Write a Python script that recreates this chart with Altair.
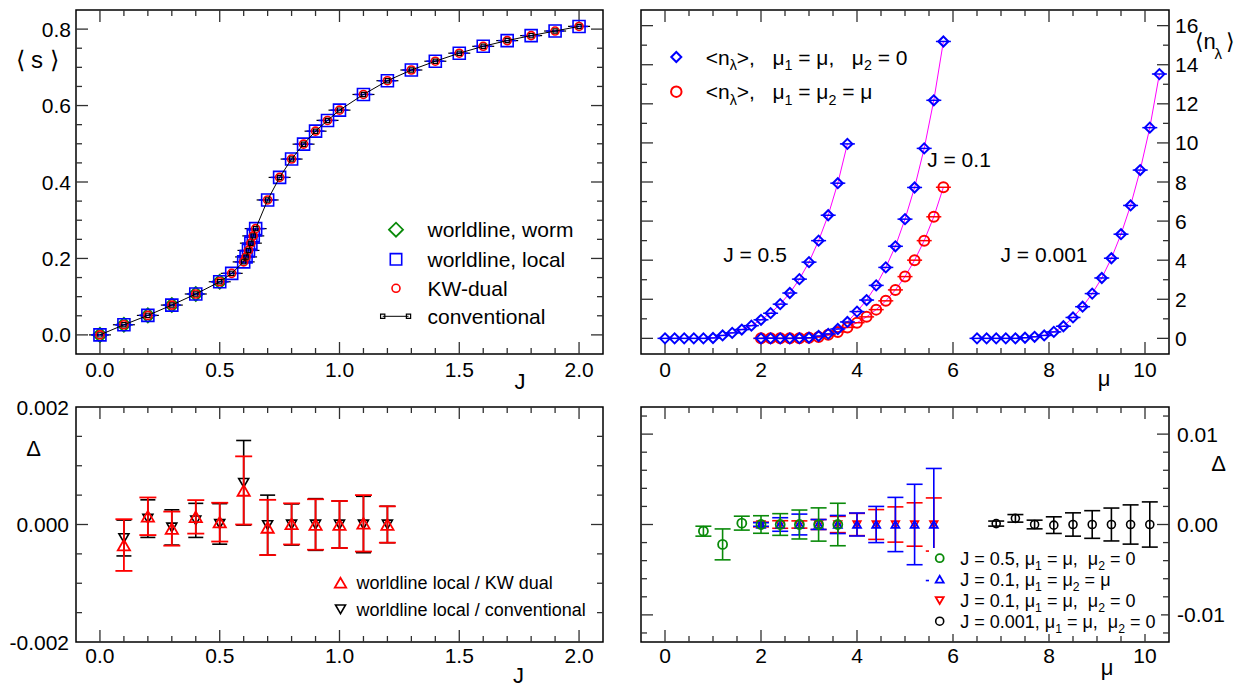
import altair as alt
import pandas as pd

FONT = "Liberation Sans"
BLUE = "#0000ff"
RED = "#ff0000"
GREEN = "#0a8a0a"
BLACK = "#000000"
MAGENTA = "#ff00ff"
TICKC = "#303030"

# ================= panel (a): <s> versus J =================
J_s = [0.0, 0.1, 0.2, 0.3, 0.4, 0.5, 0.55, 0.6, 0.61, 0.62, 0.63, 0.64, 0.65, 0.7, 0.75,
       0.8, 0.85, 0.9, 0.95, 1.0, 1.1, 1.2, 1.3, 1.4, 1.5, 1.6, 1.7, 1.8, 1.9, 2.0]
s_local = [0.0, 0.0265, 0.051, 0.078, 0.107, 0.139, 0.161, 0.191, 0.204, 0.221, 0.240, 0.259, 0.278, 0.353, 0.412,
           0.460, 0.499, 0.533, 0.561, 0.588, 0.629, 0.665, 0.693, 0.716, 0.737, 0.755, 0.770, 0.783, 0.795, 0.807]
s_kw = [0.0, 0.0265, 0.051, 0.078, 0.107, 0.139, 0.161, 0.191, 0.204, 0.221, 0.240, 0.259, 0.278, 0.353, 0.412,
        0.460, 0.499, 0.533, 0.561, 0.588, 0.629, 0.665, 0.693, 0.716, 0.737, 0.755, 0.770, 0.783, 0.795, 0.807]
s_conv = [0.0, 0.0265, 0.051, 0.078, 0.107, 0.139, 0.161, 0.191, 0.204, 0.221, 0.240, 0.259, 0.278, 0.353, 0.412,
          0.460, 0.499, 0.533, 0.561, 0.588, 0.629, 0.665, 0.693, 0.716, 0.737, 0.755, 0.770, 0.783, 0.795, 0.807]
J_worm = [0.0, 0.1, 0.2, 0.3, 0.4, 0.5]
s_worm = [0.0, 0.0265, 0.051, 0.078, 0.107, 0.139]

# ================= panel (b): <n_lambda> versus mu =================
mu_J05 = [0.0, 0.2, 0.4, 0.6, 0.8, 1.0, 1.2, 1.4, 1.6, 1.8, 2.0, 2.2, 2.4, 2.6, 2.8, 3.0, 3.2, 3.4, 3.6, 3.8]
n_J05 = [0.0, 0.0, 0.0, 0.0, 0.0, 0.02, 0.15, 0.28, 0.45, 0.65, 0.95, 1.29, 1.75, 2.32, 3.03, 3.90, 5.0, 6.30, 7.94, 9.95]
mu_J01 = [2.0, 2.2, 2.4, 2.6, 2.8, 3.0, 3.2, 3.4, 3.6, 3.8, 4.0, 4.2, 4.4, 4.6, 4.8, 5.0, 5.2, 5.4, 5.6, 5.8]
n_J01_one = [0.0, 0.0, 0.0, 0.0, 0.01, 0.03, 0.12, 0.23, 0.48, 0.84, 1.37, 1.96, 2.71, 3.63, 4.71, 6.10, 7.72, 9.72, 12.18, 15.19]
n_J01_both = [0.0, 0.0, 0.0, 0.0, 0.01, 0.03, 0.07, 0.18, 0.33, 0.56, 0.80, 1.10, 1.47, 1.92, 2.48, 3.16, 4.0, 5.0, 6.22, 7.73]
mu_J0001 = [6.5, 6.7, 6.9, 7.1, 7.3, 7.5, 7.7, 7.9, 8.1, 8.3, 8.5, 8.7, 8.9, 9.1, 9.3, 9.5, 9.7, 9.9, 10.1, 10.3]
n_J0001 = [0.0, 0.0, 0.0, 0.0, 0.0, 0.03, 0.08, 0.15, 0.33, 0.62, 1.07, 1.62, 2.29, 3.09, 4.10, 5.33, 6.80, 8.61, 10.78, 13.52]

# ================= panel (c): Delta versus J =================
J_d = [0.1, 0.2, 0.3, 0.4, 0.5, 0.6, 0.7, 0.8, 0.9, 1.0, 1.1, 1.2]
d_kw = [-0.00035, 0.00014, -0.00007, 0.00013, 0.00004, 0.00058, -0.00005, 0.00001, 0.0, 0.0, 0.00002, 0.0]
e_kw = [0.00044, 0.00032, 0.00029, 0.000285, 0.00033, 0.00058, 0.00047, 0.00035, 0.00043, 0.00040, 0.00048, 0.00031]
d_cv = [-0.00023, 0.00010, -0.00005, 0.00007, 0.00001, 0.00071, -0.00001, 0.0, 0.0, 0.0, 0.0, 0.0]
e_cv = [0.000305, 0.00032, 0.00030, 0.00029, 0.000345, 0.00072, 0.00051, 0.00035, 0.00044, 0.00040, 0.00048, 0.00031]

# ================= panel (d): Delta versus mu =================
mu_g = [0.8, 1.2, 1.6, 2.0, 2.4, 2.8, 3.2, 3.6]
d_g = [-0.00074, -0.0022, 0.00015, 0.0, 0.0, 0.0, 0.0, 0.0]
e_g = [0.00055, 0.00171, 0.00077, 0.00097, 0.0012, 0.0016, 0.00184, 0.00235]
mu_q = [2.0, 2.4, 2.8, 3.2, 3.6, 4.0, 4.4, 4.8, 5.2, 5.6]
d_b = [0.0, 0.0, 0.0, 0.0, 0.0, 0.0, 0.0, 0.0, 0.0, 0.0]
e_b = [0.0002, 0.00075, 0.00115, 0.00055, 0.0010, 0.00127, 0.0020, 0.0030, 0.00445, 0.0062]
d_r = [0.0, 0.0, 0.0, 0.0, 0.0, 0.0, 0.0, 0.0, 0.0, 0.0]
e_r = [0.00026, 0.00042, 0.0004, 0.00055, 0.0009, 0.00123, 0.00165, 0.00195, 0.0024, 0.00294]
mu_k = [6.9, 7.3, 7.7, 8.1, 8.5, 8.9, 9.3, 9.7, 10.1]
d_k = [0.0001, 0.00068, 0.0, -0.00007, 0.0, 0.0, 0.0, 0.0, 0.0]
e_k = [0.00028, 0.00042, 0.00048, 0.00092, 0.00129, 0.00153, 0.00182, 0.00217, 0.0025]

# ================= ticks and tick labels =================
J_lab = [0.0, 0.5, 1.0, 1.5, 2.0]
J_txt = ["0.0", "0.5", "1.0", "1.5", "2.0"]
J_minor = [0.1, 0.2, 0.3, 0.4, 0.6, 0.7, 0.8, 0.9, 1.1, 1.2, 1.3, 1.4, 1.6, 1.7, 1.8, 1.9]
s_lab = [0.0, 0.2, 0.4, 0.6, 0.8]
s_txt = ["0.0", "0.2", "0.4", "0.6", "0.8"]
s_minor = [0.05, 0.1, 0.15, 0.25, 0.3, 0.35, 0.45, 0.5, 0.55, 0.65, 0.7, 0.75]
mu_lab = [0, 2, 4, 6, 8, 10]
mu_txt = ["0", "2", "4", "6", "8", "10"]
mu_minor = [0.5, 1, 1.5, 2.5, 3, 3.5, 4.5, 5, 5.5, 6.5, 7, 7.5, 8.5, 9, 9.5]
n_lab = [0, 2, 4, 6, 8, 10, 12, 14, 16]
n_txt = ["0", "2", "4", "6", "8", "10", "12", "14", "16"]
n_minor = [1, 3, 5, 7, 9, 11, 13, 15]
dJ_lab = [-0.002, 0.0, 0.002]
dJ_txt = ["-0.002", "0.000", "0.002"]
dJ_major = [0.0]
dJ_minor = [-0.0015, -0.001, -0.0005, 0.0005, 0.001, 0.0015]
dm_lab = [-0.01, 0.0, 0.01]
dm_txt = ["-0.01", "0.00", "0.01"]
dm_minor = [-0.012, -0.008, -0.006, -0.004, -0.002, 0.002, 0.004, 0.006, 0.008, 0.012]

W_L, W_R = 527, 528
H_T, H_B = 344, 235

AW = {' ': 278, '\u00a0': 278, '<': 584, '>': 584, 'n': 556, ',': 278, '=': 584, '\u03bc': 576,
      '\u03bb': 500, '.': 278, 'J': 500, '/': 278}


def tw(s, size):
    return sum(AW.get(c, 556) for c in s) * size / 1000.0


def text_at(t, x, y, size, color="black", align="left", baseline="alphabetic"):
    return alt.Chart(pd.DataFrame({"t": [t]})).mark_text(
        font=FONT, fontSize=size, color=color, align=align, baseline=baseline
    ).encode(x=alt.value(x), y=alt.value(y), text="t:N")


def rich(parts, x0, yc, size):
    """Text with subscripts; leading blanks are turned into an x advance."""
    out = []
    x = x0
    base = yc + 0.36 * size
    for txt, sub in parts:
        fs = size * 0.68 if sub else size
        yb = base + (0.28 * size if sub else 0)
        stripped = txt.lstrip(" ")
        lead = len(txt) - len(stripped)
        xd = x + tw(" " * lead, fs)
        out.append(text_at(stripped.replace(" ", "\u00a0"), xd, yb, fs))
        x += tw(txt, fs)
    return out


def sym(shape, x, y, size, color, sw=1.5):
    return alt.Chart(pd.DataFrame({"a": [0]})).mark_point(
        shape=shape, size=size, color=color, filled=False, strokeWidth=sw, opacity=1
    ).encode(x=alt.value(x), y=alt.value(y))


def frame_ticks(xs, ys, xmaj, xmin, ymaj, ymin, W, H, L=12, l=6):
    out = []
    for vals, ln in ((xmaj, L), (xmin, l)):
        base = alt.Chart(pd.DataFrame({"v": vals})).mark_rule(color=TICKC, strokeWidth=1.3)
        xe = alt.X("v:Q", scale=xs, axis=None)
        out.append(base.encode(x=xe, y=alt.value(H), y2=alt.value(H - ln)))
        out.append(base.encode(x=xe, y=alt.value(0), y2=alt.value(ln)))
    for vals, ln in ((ymaj, L), (ymin, l)):
        base = alt.Chart(pd.DataFrame({"v": vals})).mark_rule(color=TICKC, strokeWidth=1.3)
        ye = alt.Y("v:Q", scale=ys, axis=None)
        out.append(base.encode(y=ye, x=alt.value(0), x2=alt.value(ln)))
        out.append(base.encode(y=ye, x=alt.value(W), x2=alt.value(W - ln)))
    return out


def xlabels(vals, txts, xs, y, size=21):
    return alt.Chart(pd.DataFrame({"v": vals, "t": txts})).mark_text(
        font=FONT, fontSize=size, align="center", baseline="alphabetic", color="black"
    ).encode(x=alt.X("v:Q", scale=xs, axis=None), y=alt.value(y), text="t:N")


def ylabels(vals, txts, ys, x, align, size=21):
    return alt.Chart(pd.DataFrame({"v": vals, "t": txts})).mark_text(
        font=FONT, fontSize=size, align=align, baseline="alphabetic", dy=0.358 * size, color="black"
    ).encode(y=alt.Y("v:Q", scale=ys, axis=None), x=alt.value(x), text="t:N")


def pts(df, x, y, xs, ys, shape, size, color, sw=1.5):
    return alt.Chart(df).mark_point(shape=shape, size=size, color=color, filled=False,
                                    strokeWidth=sw, opacity=1).encode(
        x=alt.X(f"{x}:Q", scale=xs, axis=None), y=alt.Y(f"{y}:Q", scale=ys, axis=None))


def dashes(df, x, y, xs, ys, color, size, th=1.5):
    return alt.Chart(df).mark_tick(orient="horizontal", size=size, thickness=th, color=color, opacity=1).encode(
        x=alt.X(f"{x}:Q", scale=xs, axis=None), y=alt.Y(f"{y}:Q", scale=ys, axis=None))


def errbars(df, x, lo, hi, xs, ys, color, cap, sw=1.6):
    rule = alt.Chart(df).mark_rule(color=color, strokeWidth=sw).encode(
        x=alt.X(f"{x}:Q", scale=xs, axis=None),
        y=alt.Y(f"{lo}:Q", scale=ys, axis=None), y2=f"{hi}:Q")
    return [rule, dashes(df, x, lo, xs, ys, color, cap, sw), dashes(df, x, hi, xs, ys, color, cap, sw)]


# ---------------- panel (a) ----------------
xs_a = alt.Scale(domain=[-0.1, 2.1], nice=False, zero=False)
ys_a = alt.Scale(domain=[-0.05, 0.85], nice=False, zero=False)
df_local = pd.DataFrame({"J": J_s, "s": s_local})
df_kw = pd.DataFrame({"J": J_s, "s": s_kw})
df_conv = pd.DataFrame({"J": J_s, "s": s_conv})
df_worm = pd.DataFrame({"J": J_worm, "s": s_worm})

layers_a = frame_ticks(xs_a, ys_a, J_lab, J_minor, s_lab, s_minor, W_L, H_T)
layers_a += [
    xlabels(J_lab, J_txt, xs_a, H_T + 23),
    ylabels(s_lab, s_txt, ys_a, -5, "right"),
    dashes(df_conv, "J", "s", xs_a, ys_a, BLACK, 22, 1.2),
    pts(df_worm, "J", "s", xs_a, ys_a, "diamond", 196, GREEN, 1.8),
    dashes(df_local, "J", "s", xs_a, ys_a, BLUE, 18, 1.5),
    pts(df_local, "J", "s", xs_a, ys_a, "square", 144, BLUE, 1.6),
    pts(df_kw, "J", "s", xs_a, ys_a, "circle", 64, RED, 1.6),
    alt.Chart(df_conv).mark_line(color=BLACK, strokeWidth=1).encode(
        x=alt.X("J:Q", scale=xs_a, axis=None), y=alt.Y("s:Q", scale=ys_a, axis=None)),
    pts(df_conv, "J", "s", xs_a, ys_a, "square", 18, BLACK, 1.2),
    # legend
    sym("diamond", 320, 219.7, 196, GREEN, 1.8),
    sym("square", 320, 249.3, 130, BLUE, 1.6),
    sym("circle", 320, 278.3, 64, RED, 1.6),
    alt.Chart(pd.DataFrame({"a": [0]})).mark_rule(color=BLACK, strokeWidth=1).encode(
        x=alt.value(306.7), x2=alt.value(332.5), y=alt.value(306.3)),
    sym("square", 306.7, 306.3, 18, BLACK, 1.2),
    sym("square", 332.5, 306.3, 18, BLACK, 1.2),
]
layers_a += rich([("worldline, worm", 0)], 351.5, 219.7, 21)
layers_a += rich([("worldline, local", 0)], 351.5, 249.3, 21)
layers_a += rich([("KW-dual", 0)], 351.5, 278.3, 21)
layers_a += rich([("conventional", 0)], 351.5, 306.3, 21)
layers_a += [
    text_at("\u27e8", -60, 57.7, 24),
    text_at("s", -45, 57.7, 24),
    text_at("\u27e9", -26.5, 57.7, 24),
    text_at("J", 444, 379, 22, align="center"),
]
panel_a = alt.layer(*layers_a).properties(width=W_L, height=H_T)

# ---------------- panel (b) ----------------
xs_b = alt.Scale(domain=[-0.5, 10.5], nice=False, zero=False)
ys_b = alt.Scale(domain=[-0.8, 16.8], nice=False, zero=False)
df_b1 = pd.DataFrame({"mu": mu_J05, "n": n_J05, "set": "J05"})
df_b2 = pd.DataFrame({"mu": mu_J01, "n": n_J01_one, "set": "J01a"})
df_b3 = pd.DataFrame({"mu": mu_J01, "n": n_J01_both, "set": "J01b"})
df_b4 = pd.DataFrame({"mu": mu_J0001, "n": n_J0001, "set": "J0001"})
df_bblue = pd.concat([df_b1, df_b2, df_b4], ignore_index=True)
df_ball = pd.concat([df_b1, df_b2, df_b3, df_b4], ignore_index=True)

layers_b = frame_ticks(xs_b, ys_b, mu_lab, mu_minor, n_lab, n_minor, W_R, H_T)
layers_b += [
    xlabels(mu_lab, mu_txt, xs_b, H_T + 23),
    ylabels(n_lab, n_txt, ys_b, W_R + 6, "left"),
    alt.Chart(df_ball).mark_line(color=MAGENTA, strokeWidth=1).encode(
        x=alt.X("mu:Q", scale=xs_b, axis=None), y=alt.Y("n:Q", scale=ys_b, axis=None), detail="set:N"),
    dashes(df_b3, "mu", "n", xs_b, ys_b, RED, 15, 1.5),
    pts(df_b3, "mu", "n", xs_b, ys_b, "circle", 100, RED, 2),
    dashes(df_bblue, "mu", "n", xs_b, ys_b, BLUE, 15, 1.5),
    pts(df_bblue, "mu", "n", xs_b, ys_b, "diamond", 100, BLUE, 2),
    sym("diamond", 35.3, 47, 100, BLUE, 2),
    sym("circle", 35.3, 81.7, 110, RED, 2),
]
layers_b += rich([("<n", 0), ("\u03bb", 1), (">,   \u03bc", 0), ("1", 1), (" = \u03bc,   \u03bc", 0), ("2", 1), (" = 0", 0)],
                 64.7, 47, 21)
layers_b += rich([("<n", 0), ("\u03bb", 1), (">,   \u03bc", 0), ("1", 1), (" = \u03bc", 0), ("2", 1), (" = \u03bc", 0)],
                 64.7, 81.7, 21)
layers_b += [
    text_at("J = 0.5", 114, 246, 21, align="center", baseline="middle"),
    text_at("J = 0.1", 318, 151, 21, align="center", baseline="middle"),
    text_at("J = 0.001", 403, 246, 21, align="center", baseline="middle"),
    text_at("\u03bc", 463, 376, 22, align="center"),
    text_at("\u27e8", 553.7, 39.3, 22),
    text_at("n", 562.5, 39.3, 22),
    text_at("\u03bb", 573.5, 48.5, 15),
    text_at("\u27e9", 584.5, 39.3, 22),
]
panel_b = alt.layer(*layers_b).properties(width=W_R, height=H_T)

# ---------------- panel (c) ----------------
xs_c = alt.Scale(domain=[-0.1, 2.1], nice=False, zero=False)
ys_c = alt.Scale(domain=[-0.002, 0.002], nice=False, zero=False)
df_ckw = pd.DataFrame({"J": J_d, "d": d_kw, "e": e_kw})
df_ckw["lo"] = df_ckw["d"] - df_ckw["e"]
df_ckw["hi"] = df_ckw["d"] + df_ckw["e"]
df_ccv = pd.DataFrame({"J": J_d, "d": d_cv, "e": e_cv})
df_ccv["lo"] = df_ccv["d"] - df_ccv["e"]
df_ccv["hi"] = df_ccv["d"] + df_ccv["e"]

layers_c = frame_ticks(xs_c, ys_c, J_lab, J_minor, dJ_major, dJ_minor, W_L, H_B)
layers_c += [
    xlabels(J_lab, J_txt, xs_c, H_B + 21),
    ylabels(dJ_lab, dJ_txt, ys_c, -7, "right"),
]
layers_c += errbars(df_ccv, "J", "lo", "hi", xs_c, ys_c, BLACK, 15, 1.6)
layers_c += [pts(df_ccv, "J", "d", xs_c, ys_c, "triangle-down", 100, BLACK, 1.6)]
layers_c += errbars(df_ckw, "J", "lo", "hi", xs_c, ys_c, RED, 17, 1.8)
layers_c += [pts(df_ckw, "J", "d", xs_c, ys_c, "triangle-up", 150, RED, 1.8)]
layers_c += [
    sym("triangle-up", 264.5, 175.7, 130, RED, 1.8),
    sym("triangle-down", 264.5, 202.3, 100, BLACK, 1.6),
]
layers_c += rich([("worldline local / KW dual", 0)], 280.6, 175.7, 18)
layers_c += rich([("worldline local / conventional", 0)], 280.6, 202.3, 18)
layers_c += [
    text_at("\u0394", -42.5, 48.5, 22, align="center"),
    text_at("J", 442.4, 275.7, 22, align="center"),
]
panel_c = alt.layer(*layers_c).properties(width=W_L, height=H_B)

# ---------------- panel (d) ----------------
xs_d = alt.Scale(domain=[-0.5, 10.5], nice=False, zero=False)
ys_d = alt.Scale(domain=[-0.013, 0.013], nice=False, zero=False)


def mk(mu, d, e):
    df = pd.DataFrame({"mu": mu, "d": d, "e": e})
    df["lo"] = df["d"] - df["e"]
    df["hi"] = df["d"] + df["e"]
    return df


df_dg = mk(mu_g, d_g, e_g)
df_db = mk(mu_q, d_b, e_b)
df_dr = mk(mu_q, d_r, e_r)
df_dk = mk(mu_k, d_k, e_k)

layers_d = frame_ticks(xs_d, ys_d, mu_lab, mu_minor, dm_lab, dm_minor, W_R, H_B)
layers_d += [
    xlabels(mu_lab, mu_txt, xs_d, H_B + 21),
    ylabels(dm_lab, dm_txt, ys_d, W_R + 8, "left"),
]
layers_d += errbars(df_dr, "mu", "lo", "hi", xs_d, ys_d, RED, 16, 1.6)
layers_d += [pts(df_dr, "mu", "d", xs_d, ys_d, "triangle-down", 60, RED, 1.6)]
layers_d += errbars(df_db, "mu", "lo", "hi", xs_d, ys_d, BLUE, 16, 1.6)
layers_d += [pts(df_db, "mu", "d", xs_d, ys_d, "triangle-up", 64, BLUE, 1.8)]
layers_d += errbars(df_dg, "mu", "lo", "hi", xs_d, ys_d, GREEN, 16, 1.6)
layers_d += [pts(df_dg, "mu", "d", xs_d, ys_d, "circle", 81, GREEN, 1.8)]
layers_d += errbars(df_dk, "mu", "lo", "hi", xs_d, ys_d, BLACK, 16, 1.6)
layers_d += [pts(df_dk, "mu", "d", xs_d, ys_d, "circle", 64, BLACK, 1.6)]
layers_d += [
    alt.Chart(pd.DataFrame({"a": [0]})).mark_rect(color="white").encode(
        x=alt.value(288), x2=alt.value(520), y=alt.value(141), y2=alt.value(227)),
    sym("circle", 298.7, 151.2, 64, GREEN, 1.8),
    sym("triangle-up", 298.7, 172.2, 64, BLUE, 1.8),
    sym("triangle-down", 298.7, 193.5, 64, RED, 1.8),
    sym("circle", 298.7, 214.2, 64, BLACK, 1.6),
]
layers_d += rich([("J = 0.5, \u03bc", 0), ("1", 1), (" = \u03bc,  \u03bc", 0), ("2", 1), (" = 0", 0)], 319.2, 151.2, 18)
layers_d += rich([("J = 0.1, \u03bc", 0), ("1", 1), (" = \u03bc", 0), ("2", 1), (" = \u03bc", 0)], 319.2, 172.2, 18)
layers_d += rich([("J = 0.1, \u03bc", 0), ("1", 1), (" = \u03bc,  \u03bc", 0), ("2", 1), (" = 0", 0)], 319.2, 193.5, 18)
layers_d += rich([("J = 0.001, \u03bc", 0), ("1", 1), (" = \u03bc,  \u03bc", 0), ("2", 1), (" = 0", 0)], 319.2, 214.2, 18)
layers_d += [
    text_at("\u0394", 577.5, 63.5, 22, align="center"),
    text_at("\u03bc", 466, 267.5, 22, align="center"),
]
panel_d = alt.layer(*layers_d).properties(width=W_R, height=H_B)

chart = alt.concat(
    panel_a, panel_b, panel_c, panel_d, columns=2,
    spacing={"row": 53, "column": 38}, bounds="flush"
).properties(
    padding={"left": 0, "top": 0, "right": 5, "bottom": 0}
).configure_view(stroke="black", strokeWidth=1.5)

chart.save("out.html", embed_options={"renderer": "svg", "actions": False})
